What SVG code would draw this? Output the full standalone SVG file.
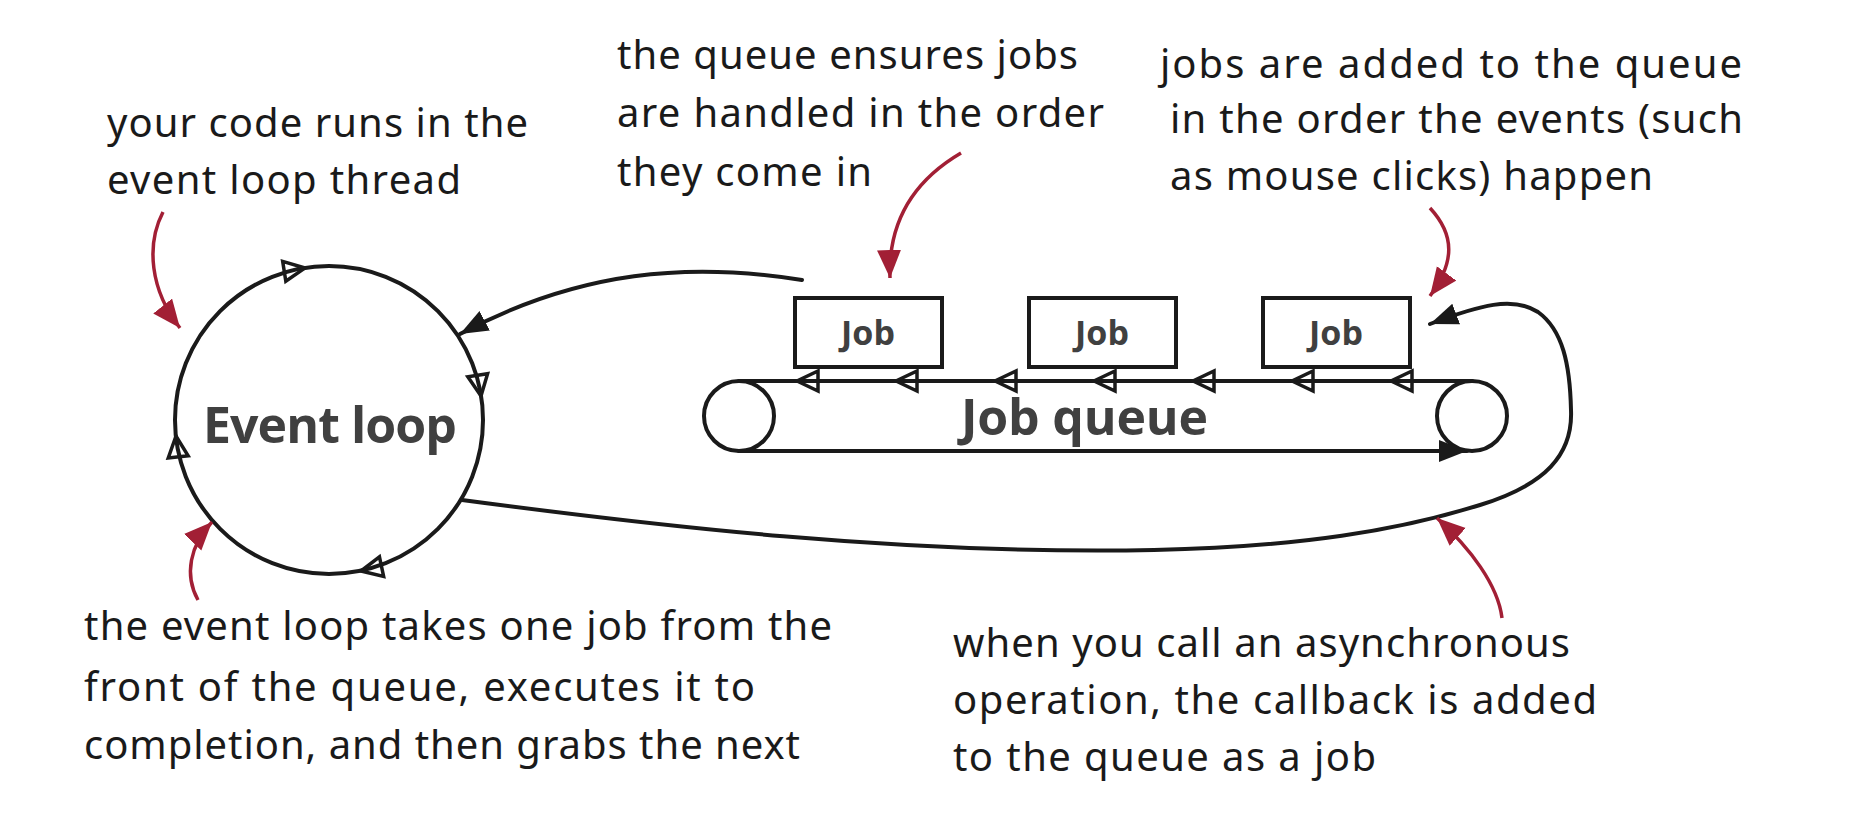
<svg xmlns="http://www.w3.org/2000/svg" width="1868" height="822" viewBox="0 0 1868 822">
<style>
.ln{fill:none;stroke:#1a1a1a;stroke-width:4;stroke-linecap:round}
.red{fill:none;stroke:#a21f35;stroke-width:3.5}
.oa{fill:none;stroke:#1a1a1a;stroke-width:3.5;stroke-linejoin:miter}
.big{font-family:"Open Sans","Liberation Sans",sans-serif;font-weight:bold;font-size:50px;fill:#404040}
.job{font-family:"Open Sans","Liberation Sans",sans-serif;font-weight:bold;font-size:34px;fill:#404040;text-anchor:middle}
.note{font-family:"Noto Sans","Liberation Sans",sans-serif;font-size:40px;fill:#1a1a1a}
.box{fill:#fff;stroke:#1a1a1a;stroke-width:4}
</style>
<defs>
<marker id="ab" markerUnits="userSpaceOnUse" markerWidth="30" markerHeight="24" refX="28" refY="11" orient="auto">
<path d="M0,0 L28,11 L0,22 Z" fill="#1a1a1a"/>
</marker>
<marker id="ar" markerUnits="userSpaceOnUse" markerWidth="30" markerHeight="26" refX="28" refY="12" orient="auto">
<path d="M0,0 L28,12 L0,24 Z" fill="#a21f35"/>
</marker>
<path id="oa" d="M0,0 L-21,-10 L-21,10 Z"/>
</defs>
<rect width="1868" height="822" fill="#fff"/>

<g id="event-loop">
<circle cx="329" cy="420" r="154" class="ln"/>
<use href="#oa" class="oa" transform="translate(305,268) rotate(-9)"/>
<use href="#oa" class="oa" transform="translate(481,396) rotate(81)"/>
<use href="#oa" class="oa" transform="translate(361,571) rotate(168)"/>
<use href="#oa" class="oa" transform="translate(176,436) rotate(264)"/>
<text x="203" y="443" class="big" textLength="254">Event loop</text>
</g>

<g id="job-queue">
<circle cx="739" cy="416" r="35" class="ln"/>
<circle cx="1472" cy="416" r="35" class="ln"/>
<path d="M739,381 L1472,381" class="ln"/>
<path d="M739,451 L1467,451" class="ln" marker-end="url(#ab)"/>
<use href="#oa" class="oa" transform="translate(797,381) rotate(180)"/>
<use href="#oa" class="oa" transform="translate(896,381) rotate(180)"/>
<use href="#oa" class="oa" transform="translate(995,381) rotate(180)"/>
<use href="#oa" class="oa" transform="translate(1094,381) rotate(180)"/>
<use href="#oa" class="oa" transform="translate(1193,381) rotate(180)"/>
<use href="#oa" class="oa" transform="translate(1292,381) rotate(180)"/>
<use href="#oa" class="oa" transform="translate(1391,381) rotate(180)"/>
<text x="961" y="435" class="big" textLength="247">Job queue</text>
</g>

<g id="job-1">
<rect x="795" y="298" width="147" height="69" class="box"/>
<text x="868" y="345" class="job">Job</text>
</g>
<g id="job-2">
<rect x="1029" y="298" width="147" height="69" class="box"/>
<text x="1102" y="345" class="job">Job</text>
</g>
<g id="job-3">
<rect x="1263" y="298" width="147" height="69" class="box"/>
<text x="1336" y="345" class="job">Job</text>
</g>

<g id="connectors">
<path d="M802,280 C690,262 580,270 460,334" class="ln" marker-end="url(#ab)"/>
<path d="M462,500 C650,525 900,555 1154,550 C1300,547 1400,530 1480,505 C1545,485 1573,455 1571,410 C1570,365 1563,330 1538,312 C1513,296 1480,305 1430,324" class="ln" marker-end="url(#ab)"/>
<path d="M163,212 C146,245 150,290 180,328" class="red" marker-end="url(#ar)"/>
<path d="M198,600 C184,575 190,545 212,522" class="red" marker-end="url(#ar)"/>
<path d="M961,153 C915,180 888,220 890,278" class="red" marker-end="url(#ar)"/>
<path d="M1430,208 C1455,235 1455,262 1430,296" class="red" marker-end="url(#ar)"/>
<path d="M1502,618 C1498,585 1470,548 1437,518" class="red" marker-end="url(#ar)"/>
</g>

<g id="note-code-runs">
<text x="107" y="137" class="note" textLength="421">your code runs in the</text>
<text x="107" y="194" class="note" textLength="354">event loop thread</text>
</g>
<g id="note-queue-order">
<text x="617" y="69" class="note" textLength="461">the queue ensures jobs</text>
<text x="617" y="127" class="note" textLength="487">are handled in the order</text>
<text x="617" y="186" class="note" textLength="255">they come in</text>
</g>
<g id="note-jobs-added">
<text x="1160" y="78" class="note" textLength="582">jobs are added to the queue</text>
<text x="1170" y="133" class="note" textLength="573">in the order the events (such</text>
<text x="1170" y="190" class="note" textLength="483">as mouse clicks) happen</text>
</g>
<g id="note-event-loop-takes">
<text x="84" y="640" class="note" textLength="748">the event loop takes one job from the</text>
<text x="84" y="701" class="note" textLength="671">front of the queue, executes it to</text>
<text x="84" y="759" class="note" textLength="716">completion, and then grabs the next</text>
</g>
<g id="note-async">
<text x="953" y="657" class="note" textLength="617">when you call an asynchronous</text>
<text x="953" y="714" class="note" textLength="644">operation, the callback is added</text>
<text x="953" y="771" class="note" textLength="423">to the queue as a job</text>
</g>
</svg>
